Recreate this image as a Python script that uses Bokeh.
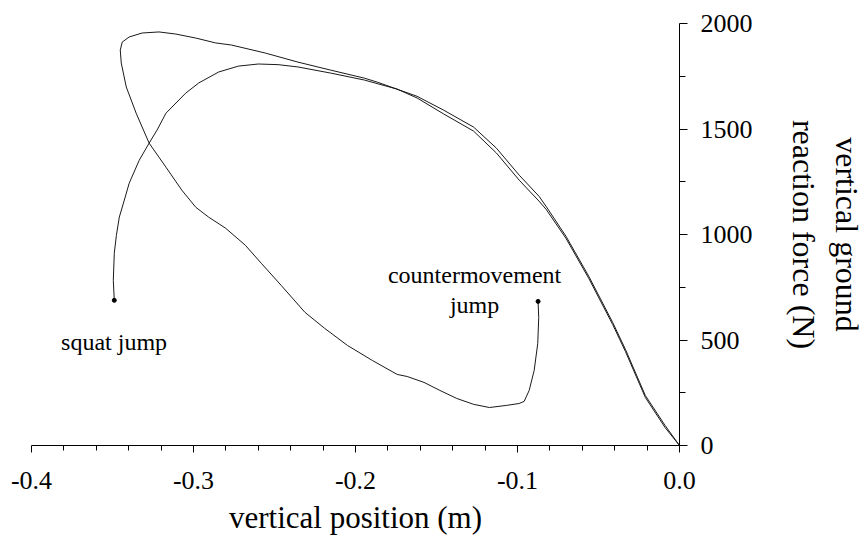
from bokeh.plotting import figure
from bokeh.models import Range1d, FixedTicker, CustomJSTickFormatter, Label
from bokeh.embed import file_html
from bokeh.resources import INLINE

# countermovement jump: vertical position (m) vs vertical ground reaction force (N)
cmj_x = [-0.0873, -0.0869, -0.0875, -0.0897, -0.0928, -0.0959, -0.0990, -0.1069, -0.1173,
         -0.1271, -0.1375, -0.1479, -0.1577, -0.1681, -0.1743, -0.1896, -0.2049, -0.2190,
         -0.2312, -0.2459, -0.2582, -0.2680, -0.2802, -0.2906, -0.2986, -0.3072, -0.3170,
         -0.3274, -0.3354, -0.3415, -0.3446, -0.3452, -0.3440, -0.3397, -0.3317, -0.3213,
         -0.3109, -0.2986, -0.2864, -0.2766, -0.2557, -0.2355, -0.2153, -0.1945, -0.1865,
         -0.1620, -0.1455, -0.1271, -0.1130, -0.0989, -0.0867, -0.0824, -0.0701, -0.0560,
         -0.0413, -0.0334, -0.0211, -0.0089, 0.0]
cmj_y = [683, 607, 484, 356, 261, 209, 199, 190, 180,
         195, 223, 261, 299, 327, 337, 403, 474, 555,
         631, 759, 864, 949, 1030, 1082, 1129, 1210, 1319,
         1433, 1575, 1699, 1813, 1874, 1912, 1936, 1955, 1960,
         1950, 1931, 1908, 1898, 1860, 1817, 1779, 1741, 1722,
         1655, 1589, 1509, 1409, 1281, 1181, 1134, 992, 802,
         584, 456, 237, 95, 0]

# squat jump
sj_x = [-0.3489, -0.3495, -0.3489, -0.3476, -0.3458, -0.3427, -0.3397, -0.3335, -0.3274,
        -0.3225, -0.3170, -0.3048, -0.2968, -0.2845, -0.2723, -0.2600, -0.2478, -0.2355,
        -0.2153, -0.1945, -0.1743, -0.1620, -0.1455, -0.1271, -0.1130, -0.0989, -0.0867,
        -0.0824, -0.0701, -0.0560, -0.0413, -0.0334, -0.0211, -0.0089, 0.0]
sj_y = [688, 783, 911, 996, 1082, 1163, 1243, 1352, 1433,
        1495, 1575, 1670, 1718, 1770, 1798, 1808, 1805, 1794,
        1765, 1732, 1689, 1647, 1571, 1490, 1386, 1257, 1158,
        1120, 982, 792, 574, 446, 228, 85, 0]

x_ticks = [-0.4, -0.3, -0.2, -0.1, 0.0]
x_minor_ticks = [-0.38, -0.36, -0.34, -0.32, -0.28, -0.26, -0.24, -0.22,
                 -0.18, -0.16, -0.14, -0.12, -0.08, -0.06, -0.04, -0.02]
y_ticks = [0, 500, 1000, 1500, 2000]
y_minor_ticks = [250, 750, 1250, 1750]

x_label = "vertical position (m)"
y_label = "vertical ground\nreaction force (N)"
annotations = ["squat jump", "countermovement", "jump"]

FONT = "Liberation Serif"

p = figure(width=867, height=537,
           x_range=Range1d(-0.4, 0.0), y_range=Range1d(0, 2000),
           y_axis_location="right",
           output_backend="svg", toolbar_location=None,
           min_border_left=31, min_border_right=183,
           min_border_top=23, min_border_bottom=92)

p.outline_line_color = None
p.background_fill_color = "white"
p.border_fill_color = "white"
p.xgrid.visible = False
p.ygrid.visible = False

xa = p.xaxis[0]
xa.ticker = FixedTicker(ticks=x_ticks, minor_ticks=x_minor_ticks)
xa.formatter = CustomJSTickFormatter(code="return tick.toFixed(1);")
xa.major_tick_in = 0
xa.major_tick_out = 7
xa.minor_tick_in = 0
xa.minor_tick_out = 5
xa.axis_line_color = "black"
xa.major_tick_line_color = "black"
xa.minor_tick_line_color = "black"
xa.major_label_text_font = FONT
xa.major_label_text_font_size = "26px"
xa.major_label_text_color = "black"
xa.major_label_standoff = 19
xa.axis_label = x_label
xa.axis_label_text_font = FONT
xa.axis_label_text_font_size = "31px"
xa.axis_label_text_font_style = "normal"
xa.axis_label_text_color = "black"
xa.axis_label_standoff = 8

ya = p.yaxis[0]
ya.ticker = FixedTicker(ticks=y_ticks, minor_ticks=y_minor_ticks)
ya.major_tick_in = 0
ya.major_tick_out = 8
ya.minor_tick_in = 0
ya.minor_tick_out = 6
ya.axis_line_color = "black"
ya.major_tick_line_color = "black"
ya.minor_tick_line_color = "black"
ya.major_label_text_font = FONT
ya.major_label_text_font_size = "26px"
ya.major_label_text_color = "black"
ya.major_label_standoff = 13
ya.axis_label = y_label
ya.axis_label_text_font = FONT
ya.axis_label_text_font_size = "32px"
ya.axis_label_text_font_style = "normal"
ya.axis_label_text_color = "black"
ya.axis_label_text_line_height = 1.2
ya.axis_label_standoff = 30

p.line(cmj_x, cmj_y, line_color="#1a1a1a", line_width=1)
p.line(sj_x, sj_y, line_color="#1a1a1a", line_width=1)
p.scatter([cmj_x[0], sj_x[0]], [cmj_y[0], sj_y[0]], size=4, color="black")

p.add_layout(Label(x=-0.349, y=489, text=annotations[0], text_align="center",
                   text_baseline="alphabetic", text_font=FONT, text_font_size="24px",
                   text_color="black"))
p.add_layout(Label(x=-0.1265, y=807, text=annotations[1], text_align="center",
                   text_baseline="alphabetic", text_font=FONT, text_font_size="24px",
                   text_color="black"))
p.add_layout(Label(x=-0.1265, y=667, text=annotations[2], text_align="center",
                   text_baseline="alphabetic", text_font=FONT, text_font_size="24px",
                   text_color="black"))

open("out.html", "w").write(file_html(p, INLINE))
